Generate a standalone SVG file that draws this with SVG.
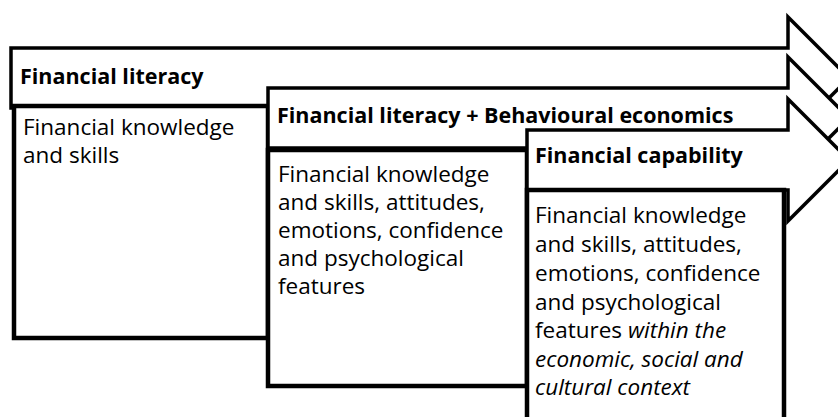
<svg xmlns="http://www.w3.org/2000/svg" width="838" height="417" viewBox="0 0 838 417">
<style>
.arrow{fill:#fff;stroke:#000;stroke-width:3.5;stroke-linejoin:miter}
.box{fill:#fff;stroke:#000;stroke-width:4.5}
.title{font-family:"Open Sans","Liberation Sans",sans-serif;font-weight:bold;font-size:21.5px;fill:#000}
.body{font-family:"Open Sans","Liberation Sans",sans-serif;font-size:22.5px;fill:#000}
.it{font-style:italic}
</style>
<rect x="0" y="0" width="838" height="417" fill="#fff"/>
<g id="connectors"></g>
<g id="stage1">
  <polygon class="arrow" points="11,48 788,48 788,17 849,78 788,139 788,108 11,108"/>
  <rect class="box" x="14" y="106" width="254" height="232"/>
  <text class="title" x="20" y="84">Financial literacy</text>
  <text class="body" x="23" y="135">Financial knowledge</text>
  <text class="body" x="23" y="163">and skills</text>
</g>
<g id="stage2">
  <polygon class="arrow" points="268,88 788,88 788,57 849,118 788,179 788,148 268,148"/>
  <rect class="box" x="268" y="150" width="259" height="236"/>
  <text class="title" x="277" y="123">Financial literacy + Behavioural economics</text>
  <text class="body" x="278" y="182">Financial knowledge</text>
  <text class="body" x="278" y="210">and skills, attitudes,</text>
  <text class="body" x="278" y="238">emotions, confidence</text>
  <text class="body" x="278" y="266">and psychological</text>
  <text class="body" x="278" y="294">features</text>
</g>
<g id="stage3">
  <polygon class="arrow" points="527,130 788,130 788,99 849,160 788,221 788,190 527,190"/>
  <rect class="box" x="527" y="190" width="257" height="260"/>
  <text class="title" x="535" y="163">Financial capability</text>
  <text class="body" x="535" y="223">Financial knowledge</text>
  <text class="body" x="535" y="252">and skills, attitudes,</text>
  <text class="body" x="535" y="281">emotions, confidence</text>
  <text class="body" x="535" y="310">and psychological</text>
  <text class="body" x="535" y="338">features <tspan class="it">within the</tspan></text>
  <text class="body it" x="535" y="367">economic, social and</text>
  <text class="body it" x="535" y="395">cultural context</text>
</g>
</svg>
